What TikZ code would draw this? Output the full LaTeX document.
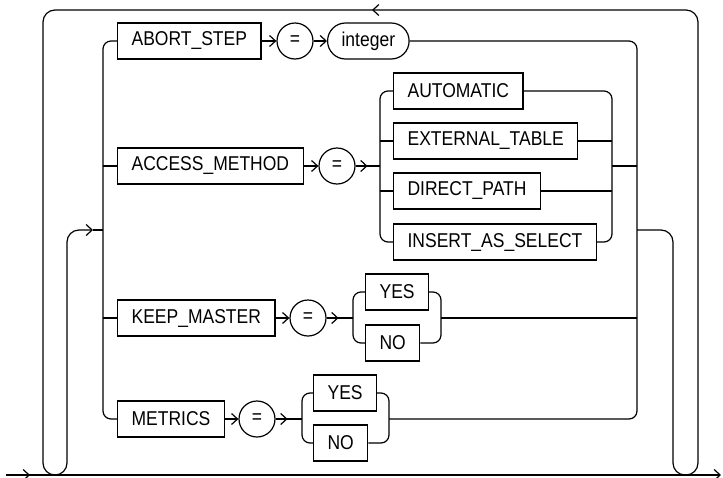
\documentclass[tikz,border=0pt]{standalone}
\usepackage{fontspec}
\setmainfont{Liberation Sans}[FakeStretch=0.875]
\usetikzlibrary{arrows.meta}

\tikzset{
  kw/.style={draw, rectangle, anchor=west, minimum height=36pt, inner xsep=14pt, inner ysep=0pt},
  eqs/.style={draw, circle, minimum size=36pt, inner sep=0pt},
  var/.style={draw, rectangle, rounded corners=17.9pt, anchor=west, minimum height=36pt, inner xsep=14pt, inner ysep=0pt},
  rail/.style={rounded corners=8pt},
  loopc/.style={rounded corners=12pt},
  arr/.style={-{Straight Barb[length=6pt,width=11pt]}},
}

\begin{document}
\begin{tikzpicture}[x=1pt,y=-1pt,line width=1.2pt,font=\fontsize{20}{22}\selectfont]
\useasboundingbox (0,0) rectangle (723,477);
% where the choice is entered and left
\coordinate (L) at (103,230);
\coordinate (R) at (637,230);
\coordinate (entry) at (6,475);
\coordinate (exit) at (721,475);
% ABORT_STEP
\node[kw] (abort) at (117,41) {ABORT\_STEP};
\node[eqs] (eq1) at (295,41) {=};
\node[var] (int) at (327,41) {integer};
% ACCESS_METHOD
\node[kw] (access) at (117,166) {ACCESS\_METHOD};
\node[eqs] (eq2) at (337,166) {=};
\node[kw] (auto) at (393,91) {AUTOMATIC};
\node[kw] (ext) at (393,141) {EXTERNAL\_TABLE};
\node[kw] (direct) at (393,191) {DIRECT\_PATH};
\node[kw] (insert) at (393,242) {INSERT\_AS\_SELECT};
\coordinate (al) at (380,166);
\coordinate (ar) at (612,166);
% KEEP_MASTER
\node[kw] (keep) at (117,318) {KEEP\_MASTER};
\node[eqs] (eq3) at (308,318) {=};
\node[kw] (kyes) at (365,292) {YES};
\node[kw] (kno) at (365,343) {NO};
\coordinate (kl) at (353,318);
\coordinate (kr) at (441,318);
% METRICS
\node[kw] (metrics) at (117,419) {METRICS};
\node[eqs] (eq4) at (257,419) {=};
\node[kw] (myes) at (313,393) {YES};
\node[kw] (mno) at (313,443) {NO};
\coordinate (ml) at (302,419);
\coordinate (mr) at (389,419);

% main line and repeat loop
\draw[arr] (entry) -- (exit);
\draw[arr] (entry) -- (30,475);
\draw[loopc,arr] (R) -- (673,230) -- (673,475) -- (698,475) -- (698,10) -- (372,10);
\draw[loopc,arr] (373,10) -- (43,10) -- (43,475) -- (67,475) -- (67,230) -- (93,230);
\draw (93,230) -- (L);

% outer rails
\draw[rail] (abort.west) -| (L) |- (metrics.west);
\draw (L |- access.west) -- (access.west);
\draw (L |- keep.west) -- (keep.west);
\draw[rail] (int.east) -| (R) |- (mr);

% ABORT_STEP row
\draw[arr] (abort) -- (eq1);
\draw[arr] (eq1) -- (int);

% ACCESS_METHOD row
\draw[arr] (access) -- (eq2);
\draw (eq2) -- (al);
\draw[arr] (eq2.east) -- ++(12,0);
\draw[rail] (auto.west) -| (al) |- (insert.west);
\draw (al |- ext.west) -- (ext.west);
\draw (al |- direct.west) -- (direct.west);
\draw[rail] (auto.east) -| (ar) |- (insert.east);
\draw (ext.east) -- (ar |- ext.east);
\draw (direct.east) -- (ar |- direct.east);
\draw (ar) -- (ar -| R);

% KEEP_MASTER row
\draw[arr] (keep) -- (eq3);
\draw (eq3) -- (kl);
\draw[arr] (eq3.east) -- ++(12,0);
\draw[rail] (kyes.west) -| (kl) |- (kno.west);
\draw[rail] (kyes.east) -| (kr) |- (kno.east);
\draw (kr) -- (kr -| R);

% METRICS row
\draw[arr] (metrics) -- (eq4);
\draw (eq4) -- (ml);
\draw[arr] (eq4.east) -- ++(12,0);
\draw[rail] (myes.west) -| (ml) |- (mno.west);
\draw[rail] (myes.east) -| (mr) |- (mno.east);
\end{tikzpicture}
\end{document}
